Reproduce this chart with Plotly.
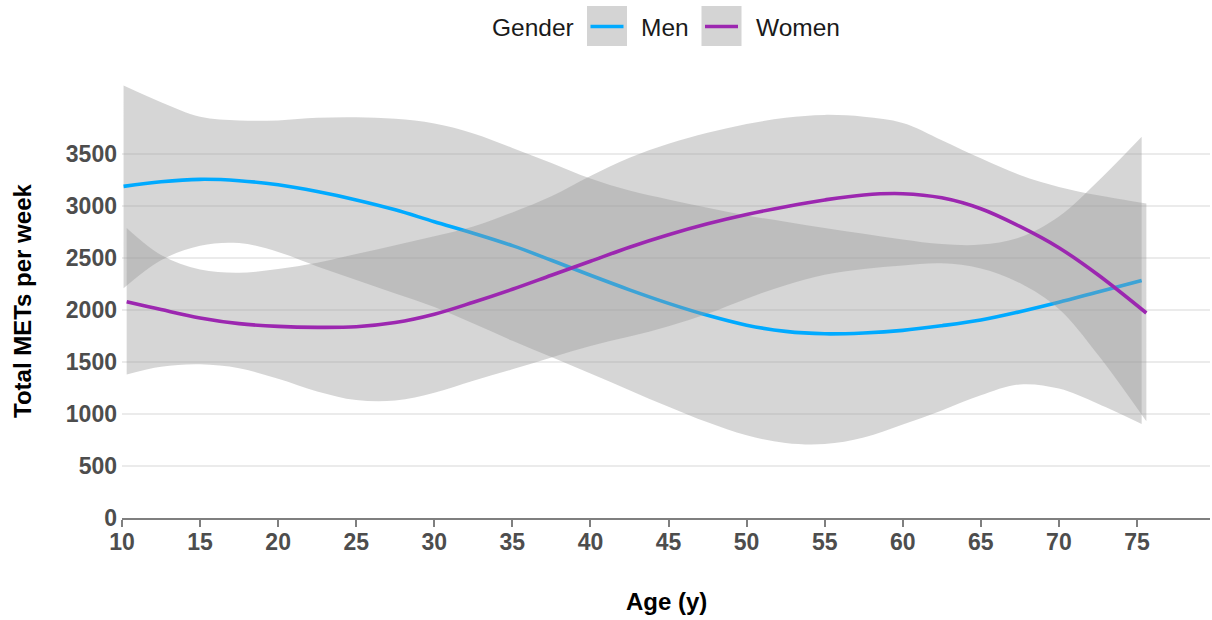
import plotly.graph_objects as go

# Smoothed total METs per week by age, one curve per gender
men_age = [10.1, 12.5, 15, 17.5, 20, 22.5, 25, 27.5, 30, 32.5, 35, 37.5, 40, 42.5,
           45, 47.5, 50, 52.5, 55, 57.5, 60, 62.5, 65, 67.5, 70, 72.5, 75.3]
men_mets = [3190, 3235, 3258, 3245, 3205, 3140, 3060, 2965, 2850, 2740, 2620, 2480, 2335, 2195,
            2065, 1950, 1855, 1795, 1772, 1780, 1805, 1850, 1905, 1985, 2075, 2175, 2285]
men_upper = [4160, 4000, 3860, 3825, 3825, 3850, 3855, 3840, 3795, 3700, 3560, 3415, 3265, 3150,
             3065, 2985, 2910, 2850, 2790, 2735, 2680, 2635, 2630, 2700, 2900, 3240, 3668]
men_lower = [2210, 2480, 2620, 2645, 2560, 2420, 2290, 2160, 2030, 1870, 1705, 1548, 1390, 1230,
             1070, 920, 795, 722, 712, 775, 900, 1035, 1180, 1285, 1245, 1100, 905]

women_age = [10.3, 12.5, 15, 17.5, 20, 22.5, 25, 27.5, 30, 32.5, 35, 37.5, 40, 42.5,
             45, 47.5, 50, 52.5, 55, 57.5, 60, 62.5, 65, 67.5, 70, 72.5, 75.6]
women_mets = [2080, 2005, 1925, 1870, 1843, 1834, 1840, 1880, 1960, 2075, 2200, 2335, 2470, 2605,
              2725, 2830, 2920, 2995, 3060, 3108, 3120, 3080, 2975, 2805, 2600, 2340, 1972]
women_upper = [2790, 2530, 2390, 2360, 2395, 2455, 2540, 2625, 2710, 2805, 2940, 3095, 3290, 3465,
               3600, 3705, 3790, 3850, 3878, 3860, 3800, 3635, 3460, 3300, 3185, 3105, 3025]
women_lower = [1380, 1455, 1478, 1440, 1340, 1218, 1135, 1130, 1205, 1320, 1430, 1545, 1655, 1745,
               1845, 1965, 2110, 2240, 2340, 2395, 2430, 2450, 2400, 2260, 2010, 1570, 930]

y_ticks = [0, 500, 1000, 1500, 2000, 2500, 3000, 3500]
x_ticks = [10, 15, 20, 25, 30, 35, 40, 45, 50, 55, 60, 65, 70, 75]

MEN_COLOR = "#00AAFF"
WOMEN_COLOR = "#9C27B0"
BAND = "rgba(153,153,153,0.4)"
FONT = "Liberation Sans, Arial, sans-serif"

W, H = 1212, 620
L, R, T, B = 122, 1210, 82, 518
PX_PER_YEAR = 15.615
PX_PER_MET = 0.10395


def px_x(p):
    return (p - L) / (R - L)


def px_y(p):
    return (B - p) / (B - T)


fig = go.Figure()


def add_group(age, mid, lo, hi, color):
    fig.add_trace(go.Scatter(x=age, y=lo, mode="lines", line=dict(width=0, shape="spline"),
                             hoverinfo="skip", showlegend=False))
    fig.add_trace(go.Scatter(x=age, y=hi, mode="lines", line=dict(width=0, shape="spline"),
                             fill="tonexty", fillcolor=BAND, hoverinfo="skip", showlegend=False))
    fig.add_trace(go.Scatter(x=age, y=mid, mode="lines",
                             line=dict(color=color, width=3.6, shape="spline"), showlegend=False))


add_group(men_age, men_mets, men_lower, men_upper, MEN_COLOR)
add_group(women_age, women_mets, women_lower, women_upper, WOMEN_COLOR)

fig.update_xaxes(
    range=[10, 10 + (R - L) / PX_PER_YEAR],
    tickvals=x_ticks, ticktext=[str(v) for v in x_ticks],
    showgrid=False, zeroline=False,
    showline=True, linecolor="#7F7F7F", linewidth=1.8,
    ticks="outside", ticklen=7, tickwidth=1.8, tickcolor="#7F7F7F",
    ticklabelstandoff=-5,
    tickfont=dict(family=FONT, size=23, color="#4D4D4D", weight="bold"),
)
fig.update_yaxes(
    range=[0, (B - T) / PX_PER_MET],
    tickvals=y_ticks, ticktext=[str(v) for v in y_ticks],
    showgrid=True, gridcolor="#EBEBEB", gridwidth=1.8,
    zeroline=False, showline=False, ticks="",
    ticklabelstandoff=4,
    tickfont=dict(family=FONT, size=23, color="#4D4D4D", weight="bold"),
)

# Axis titles
annotations = [
    dict(text="<b>Total METs per week</b>", xref="paper", yref="paper",
         x=px_x(22), y=px_y(301), textangle=-90, showarrow=False,
         xanchor="center", yanchor="middle",
         font=dict(family=FONT, size=24, color="black")),
    dict(text="<b>Age (y)</b>", xref="paper", yref="paper",
         x=px_x(666), y=px_y(601), showarrow=False,
         xanchor="center", yanchor="middle",
         font=dict(family=FONT, size=24, color="black")),
]

# Legend: title, grey key boxes with a line sample, labels
legend_font = dict(family=FONT, size=24.5, color="#1A1A1A")
annotations += [
    dict(text="Gender", xref="paper", yref="paper", x=px_x(576), y=px_y(28),
         xanchor="right", yanchor="middle", showarrow=False, font=legend_font),
    dict(text="Men", xref="paper", yref="paper", x=px_x(639), y=px_y(28),
         xanchor="left", yanchor="middle", showarrow=False, font=legend_font),
    dict(text="Women", xref="paper", yref="paper", x=px_x(754), y=px_y(28),
         xanchor="left", yanchor="middle", showarrow=False, font=legend_font),
]

shapes = []
for (x0, x1), color in [((587, 627), MEN_COLOR), ((701.5, 741.5), WOMEN_COLOR)]:
    shapes.append(dict(type="rect", xref="paper", yref="paper",
                       x0=px_x(x0), x1=px_x(x1), y0=px_y(46), y1=px_y(6),
                       fillcolor="#D4D4D4", line=dict(width=0), layer="above"))
    shapes.append(dict(type="line", xref="paper", yref="paper",
                       x0=px_x(x0 + 3.5), x1=px_x(x1 - 3.5), y0=px_y(26.5), y1=px_y(26.5),
                       line=dict(color=color, width=3.6), layer="above"))

fig.update_layout(
    width=W, height=H,
    margin=dict(l=L, r=W - R, t=T, b=H - B),
    plot_bgcolor="white", paper_bgcolor="white",
    showlegend=False,
    annotations=annotations, shapes=shapes,
)

fig.write_html("out.html")
